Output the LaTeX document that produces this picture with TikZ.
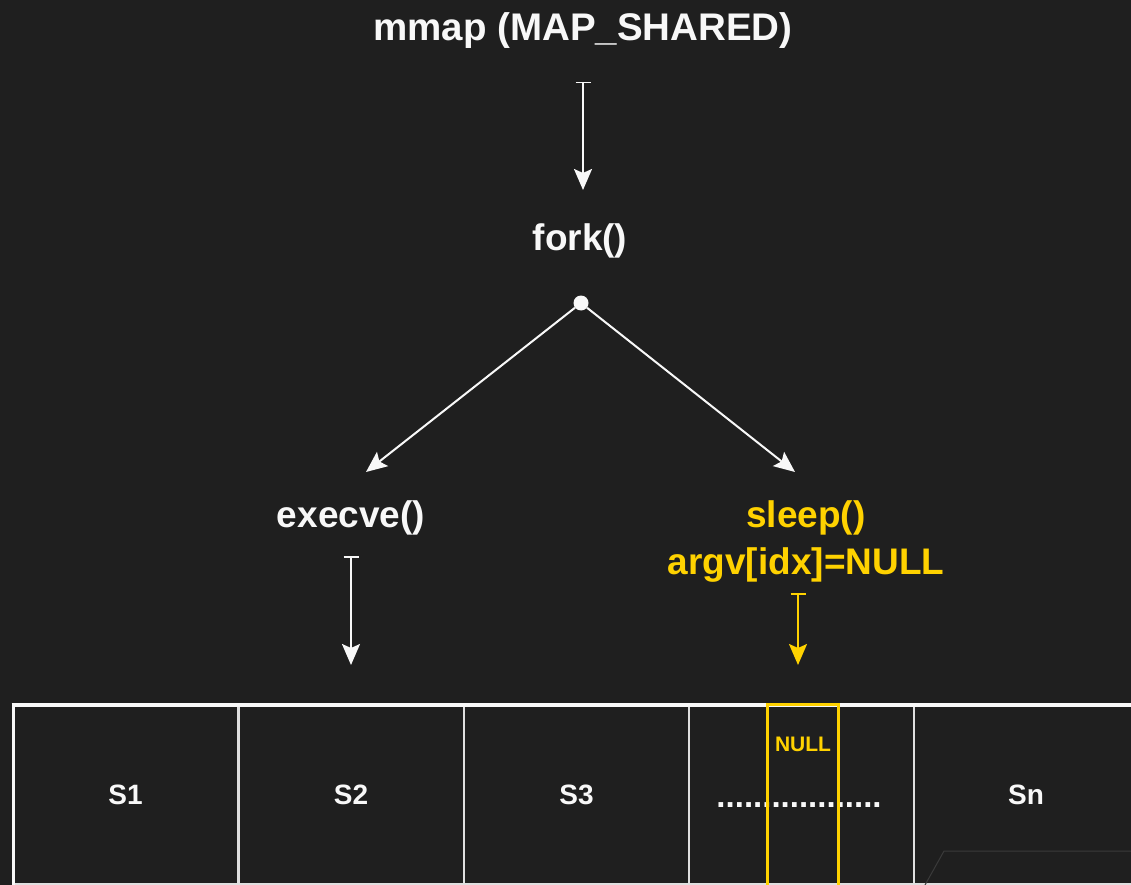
\documentclass[tikz,border=0pt]{standalone}
\usepackage{fontspec}
\setmainfont{Liberation Sans}
\usetikzlibrary{arrows.meta}
\definecolor{bgc}{HTML}{1F1F1F}
\definecolor{ylw}{HTML}{FFD200}
\definecolor{fgc}{HTML}{F8F8F8}
\definecolor{faint}{HTML}{3A3A3A}
\tikzset{
  lbl/.style={text=fgc, font=\bfseries\fontsize{37}{47}\selectfont, inner sep=0pt, anchor=base},
  ylbl/.style={lbl, text=ylw},
  conn/.style={draw=fgc, line width=2pt, {Bar[width=15pt,line width=1.5pt]}-{Stealth[length=21pt,width=18pt,inset=4pt]}},
  fconn/.style={draw=fgc, line width=2pt, -{Stealth[length=21pt,width=18pt,inset=4pt]}},
  cell/.style={draw=fgc!90!black, line width=2pt, minimum width=225pt, minimum height=179pt, inner sep=0pt, text=fgc, font=\bfseries\fontsize{28}{32}\selectfont}
}
\begin{document}
\begin{tikzpicture}[x=1pt,y=-1pt]
\fill[bgc] (0,0) rectangle (1131,885);
\useasboundingbox (0,0) rectangle (1131,885);

% labels
\node[lbl, font=\bfseries\fontsize{38.5}{47}\selectfont] (mmap) at (583,41) {mmap (MAP\_SHARED)};
\node[lbl] (fork) at (580,250) {fork()};
\node[lbl] (execve) at (351,527) {execve()};
\node[ylbl] (sleep) at (806,527) {sleep()};
\node[ylbl] (argv) at (806,574) {argv[idx]=NULL};

% fork point
\node[circle, fill=fgc, inner sep=0pt, minimum size=15pt] (dot) at (581,303) {};

% connector ends
\coordinate (m1) at (583,82);
\coordinate (f1) at (583,190);
\coordinate (lt) at (366,472);
\coordinate (rt) at (795,472);
\coordinate (e1) at (351,556);
\coordinate (e2) at (351,665);
\coordinate (y1) at (798,593);
\coordinate (y2) at (798,665);

\draw[conn] (m1) -- (f1);
\draw[fconn] (dot) -- (lt);
\draw[fconn] (dot) -- (rt);
\draw[conn] (e1) -- (e2);
\draw[conn, draw=ylw, fill=ylw] (y1) -- (y2);

% memory cells
\node[cell] (c1) at (125.5,794.5) {S1};
\node[cell] (c2) at (351,794.5) {S2};
\node[cell] (c3) at (576.5,794.5) {S3};
\node[cell] (c4) at (801.5,794.5) {};
\node[cell, minimum width=224pt] (c5) at (1026,794.5) {Sn};
\draw[fgc, line width=4pt] (11.5,705) -- (1131,705);
\draw[fgc, line width=3pt] (13,704) -- (13,885);

% faint line in last cell
\draw[faint, line width=1pt] (925,885) -- (944,851) -- (1131,851);

% dots
\node[text=fgc, font=\bfseries\fontsize{33}{36}\selectfont, inner sep=0pt, anchor=base] (dots) at (799,807) {..................};

% NULL slot
\node[draw=ylw, line width=3pt, minimum width=71pt, minimum height=182pt, inner sep=0pt] (nullbox) at (802.5,795) {};
\node[text=ylw, font=\bfseries\fontsize{21}{24}\selectfont, inner sep=0pt, anchor=base] (nulltxt) at (803,751) {NULL};
\end{tikzpicture}
\end{document}
